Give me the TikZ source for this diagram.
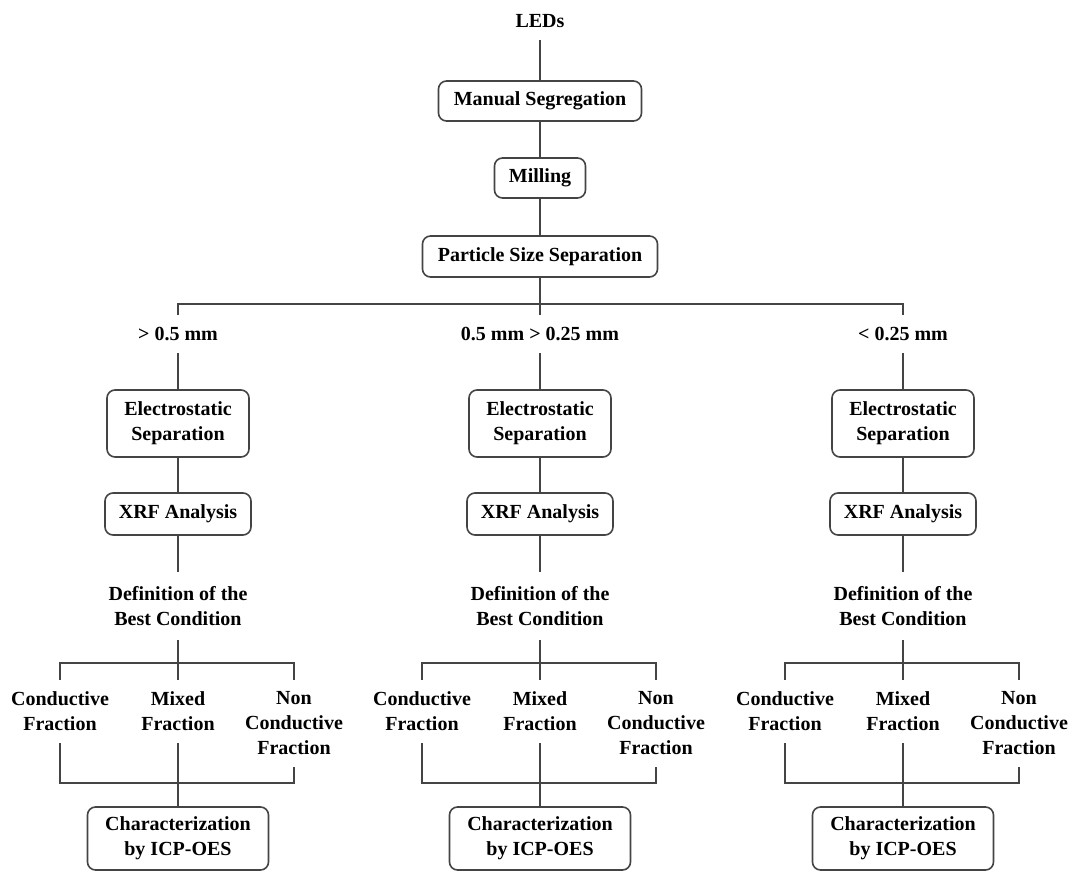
\documentclass[tikz,border=0pt]{standalone}
\usepackage{fontspec}
\setmainfont{Liberation Serif}
\definecolor{linegray}{HTML}{444444}
\begin{document}
\begin{tikzpicture}[x=1pt,y=-1pt,
  every node/.style={font=\fontsize{20}{25}\selectfont\bfseries, align=center, inner sep=0pt},
  box/.style={draw=linegray, line width=1.6pt, rounded corners=8pt},
  conn/.style={draw=linegray, line width=1.6pt}]
\useasboundingbox (0,0) rectangle (1068,872);
\node[minimum height=38pt] (leds) at (540,21) {LEDs};
\node[box, minimum width=203pt, minimum height=40pt] (man) at (540,101) {Manual Segregation};
\node[box, minimum width=91pt, minimum height=40pt] (mil) at (540,178) {Milling};
\node[box, minimum width=235pt, minimum height=41pt] (pss) at (540,256.5) {Particle Size Separation};
\coordinate (br) at (540,304);
\draw[conn] (leds) -- (man);
\draw[conn] (man) -- (mil);
\draw[conn] (mil) -- (pss);
\foreach \i/\cx/\t in {a/178/{> 0.5 mm}, b/540/{0.5 mm > 0.25 mm}, c/903/{< 0.25 mm}} {
  \node[minimum height=38pt] (sz\i) at (\cx,334) {\t};
  \node[box, minimum width=142pt, minimum height=67pt] (es\i) at (\cx,423.5) {Electrostatic\\Separation};
  \node[box, minimum width=146pt, minimum height=42pt] (xrf\i) at (\cx,514) {XRF Analysis};
  \node[minimum height=68pt] (def\i) at (\cx,606) {Definition of the\\Best Condition};
  \node[minimum height=63pt] (con\i) at (\cx-118,711.5) {Conductive\\Fraction};
  \node[minimum height=63pt] (mix\i) at (\cx,711.5) {Mixed\\Fraction};
  \node[minimum height=87pt] (non\i) at (\cx+116,723.5) {Non\\Conductive\\Fraction};
  \node[box, minimum width=181pt, minimum height=63pt] (chr\i) at (\cx,838.5) {Characterization\\by ICP-OES};
  \coordinate (j\i) at (\cx,663);
  \coordinate (k\i) at (\cx,783);
  \draw[conn] (sz\i) -- (es\i);
  \draw[conn] (es\i) -- (xrf\i);
  \draw[conn] (xrf\i) -- (def\i);
  \draw[conn] (def\i) -- (mix\i);
  \draw[conn] (con\i.north) -- (con\i.north |- j\i) -- (non\i.north |- j\i) -- (non\i.north);
  \draw[conn] (mix\i) -- (chr\i);
  \draw[conn] (con\i.south) -- (con\i.south |- k\i) -- (non\i.south |- k\i) -- (non\i.south);
}
\draw[conn] (pss) -- (szb);
\draw[conn] (sza.north) -- (sza.north |- br) -- (szc.north |- br) -- (szc.north);
\end{tikzpicture}
\end{document}
